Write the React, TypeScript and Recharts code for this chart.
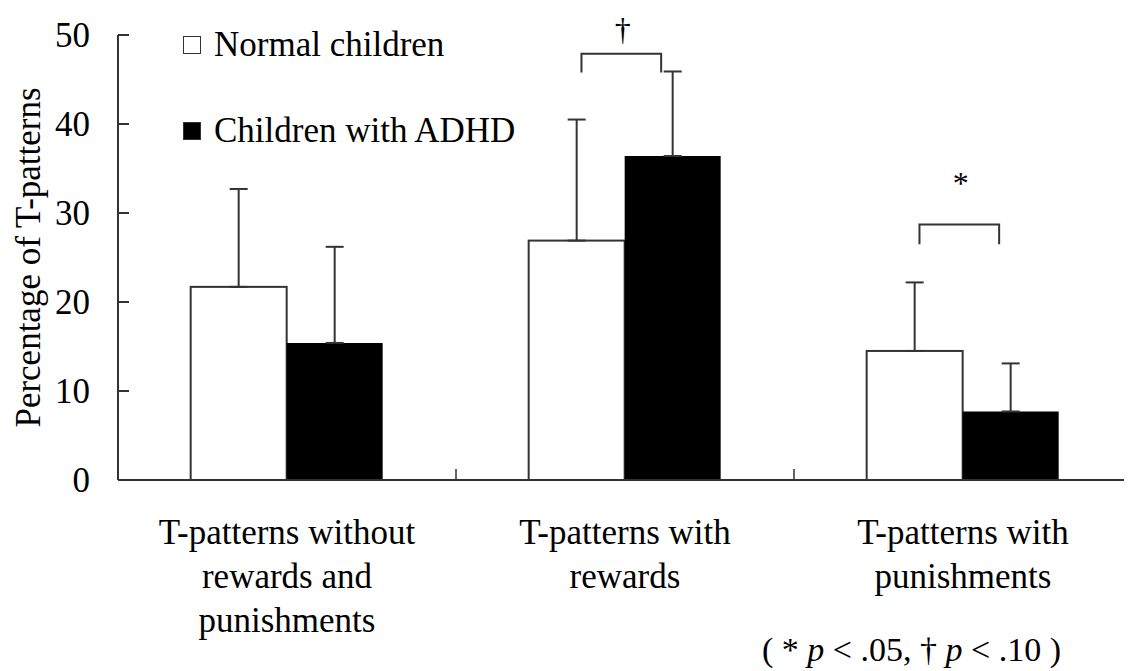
import React from 'react';
import { BarChart, Bar, XAxis, YAxis, ErrorBar, Legend } from 'recharts';

const categories = [
  'T-patterns without rewards and punishments',
  'T-patterns with rewards',
  'T-patterns with punishments',
];
const categoryLines = [
  ['T-patterns without', 'rewards and', 'punishments'],
  ['T-patterns with', 'rewards'],
  ['T-patterns with', 'punishments'],
];
const seriesNames = ['Normal children', 'Children with ADHD'];
const normalMeans = [21.7, 26.9, 14.5];
const normalSD = [11.0, 13.6, 7.7];
const adhdMeans = [15.4, 36.4, 7.7];
const adhdSD = [10.8, 9.5, 5.4];
const yTicks = [0, 10, 20, 30, 40, 50];

// significance brackets (values in %)
const sigMarks = ['', '†', '*'];
const sigTop = [0, 47.9, 28.7];
const sigLegBottom = [0, 45.8, 26.5];
const sigLabelAt = [0, 50.7, 33.4];

const FONT = '"Liberation Serif", "Times New Roman", serif';
const INK = '#333';
const FS = 35;

const data = categories.map((name, i) => ({
  name,
  normal: normalMeans[i],
  adhd: adhdMeans[i],
  normalErr: [0, normalSD[i]],
  adhdErr: [0, adhdSD[i]],
  sig: sigMarks[i],
  sigTop: sigTop[i],
  sigLeg: sigLegBottom[i],
  sigLabel: sigLabelAt[i],
}));

const NormalBar = (props: any) => {
  const { x, y, width, height, payload } = props;
  const base = y + height;
  const unit = payload.normal ? height / payload.normal : 0;
  const parts: React.ReactNode[] = [
    <rect key="r" x={x} y={y} width={width} height={height} fill="#fff" stroke={INK} strokeWidth={2} />,
  ];
  if (payload.sig) {
    const x1 = x + width * 0.55;
    const x2 = x + width * 1.38;
    const top = base - payload.sigTop * unit;
    const leg = base - payload.sigLeg * unit;
    parts.push(
      <path key="b" d={`M${x1},${leg} L${x1},${top} L${x2},${top} L${x2},${leg}`} fill="none" stroke={INK} strokeWidth={2} />,
      <text key="t" x={x + width - 2} y={base - payload.sigLabel * unit} textAnchor="middle" dominantBaseline="central" fontSize={32} fill="#000">
        {payload.sig}
      </text>,
    );
  }
  return <g>{parts}</g>;
};

const YTick = (props: any) => {
  const { x, y, payload } = props;
  return (
    <g>
      <line x1={x} y1={y} x2={x + 11} y2={y} stroke={INK} strokeWidth={2} />
      <text x={x - 28} y={y} textAnchor="end" dominantBaseline="central" fontSize={FS} fill="#000">
        {payload.value}
      </text>
    </g>
  );
};

const CategoryTick = (props: any) => {
  const { x, y, payload } = props;
  const idx = categories.indexOf(payload.value);
  const half = payload.offset ?? 169;
  const lines = categoryLines[idx] || [];
  return (
    <g>
      <line x1={x - half} y1={y} x2={x - half} y2={y - 11} stroke={INK} strokeWidth={1.5} />
      {idx === categories.length - 1 && (
        <line x1={x + half} y1={y} x2={x + half} y2={y - 11} stroke={INK} strokeWidth={1.5} />
      )}
      {lines.map((l, k) => (
        <text key={k} x={x} y={y + 64 + k * 44} textAnchor="middle" fontSize={FS} fill="#000">
          {l}
        </text>
      ))}
    </g>
  );
};

const LegendBox = (props: any) => {
  const items = [...(props.payload || [])].sort(
    (a: any, b: any) => seriesNames.indexOf(a.value) - seriesNames.indexOf(b.value),
  );
  return (
    <div style={{ fontFamily: FONT, fontSize: FS, color: '#000' }}>
      {items.map((it: any, i: number) => (
        <div key={i} style={{ display: 'flex', alignItems: 'center', height: 38, marginBottom: i === 0 ? 48 : 0 }}>
          <span
            style={{
              display: 'inline-block',
              width: 18,
              height: 18,
              boxSizing: 'border-box',
              border: `1.5px solid ${INK}`,
              background: it.color,
              marginRight: 13,
            }}
          />
          <span style={{ whiteSpace: 'nowrap' }}>{it.value}</span>
        </div>
      ))}
    </div>
  );
};

export default function App() {
  return (
    <div style={{ position: 'relative', width: 1124, height: 663, fontFamily: FONT }}>
      <BarChart
        width={1124}
        height={663}
        data={data}
        margin={{ top: 27, right: 0, bottom: 0, left: 0 }}
        barCategoryGap="21.5%"
        barGap={0}
      >
        <XAxis
          dataKey="name"
          axisLine={{ stroke: INK, strokeWidth: 2 }}
          tickLine={false}
          tickSize={0}
          tickMargin={0}
          interval={0}
          height={191}
          tick={<CategoryTick />}
        />
        <YAxis
          domain={[0, 50]}
          ticks={yTicks}
          width={110}
          axisLine={{ stroke: INK, strokeWidth: 2 }}
          tickLine={false}
          tickSize={0}
          tickMargin={0}
          interval={0}
          tick={<YTick />}
          label={{
            content: (p: any) => {
              const vb = p.viewBox || { x: 0, y: 27, width: 110, height: 445 };
              const cx = 20;
              const cy = vb.y + vb.height / 2;
              return (
                <text x={cx} y={cy} transform={`rotate(-90, ${cx}, ${cy})`} textAnchor="middle" dominantBaseline="central" fontSize={FS} fill="#000">
                  Percentage of T-patterns
                </text>
              );
            },
          }}
        />
        <Legend
          layout="vertical"
          align="center"
          verticalAlign="middle"
          wrapperStyle={{ top: 18, left: 175, width: 'auto', height: 'auto' }}
          content={<LegendBox />}
        />
        <Bar dataKey="normal" name={seriesNames[0]} fill="#ffffff" shape={<NormalBar />} isAnimationActive={false}>
          <ErrorBar dataKey="normalErr" direction="y" width={9} stroke={INK} strokeWidth={2} />
        </Bar>
        <Bar dataKey="adhd" name={seriesNames[1]} fill="#000000" isAnimationActive={false}>
          <ErrorBar dataKey="adhdErr" direction="y" width={9} stroke={INK} strokeWidth={2} />
        </Bar>
      </BarChart>
      <div
        style={{
          position: 'absolute',
          left: 754,
          top: 622,
          fontSize: 34,
          whiteSpace: 'nowrap',
          color: '#000',
          lineHeight: '40px',
        }}
      >
        ( * <i>p</i> &lt; .05, † <i>p</i> &lt; .10 )
      </div>
    </div>
  );
}
